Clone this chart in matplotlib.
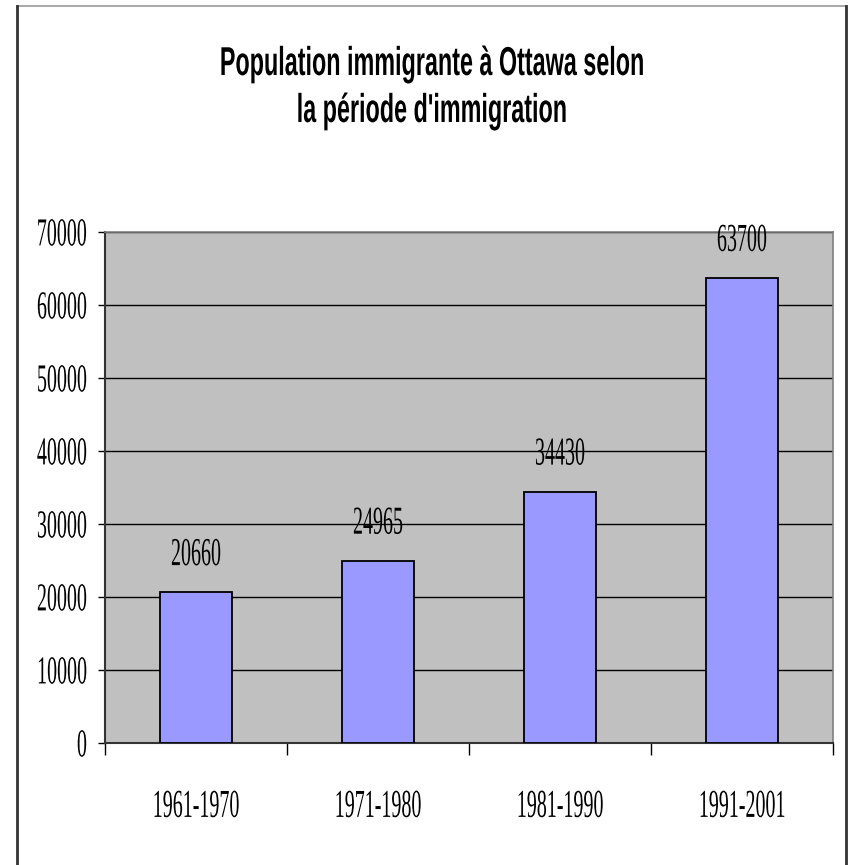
import matplotlib
matplotlib.use("Agg")
import matplotlib.pyplot as plt
import matplotlib.patheffects as pe
from matplotlib.transforms import Affine2D
from matplotlib.lines import Line2D

categories = ["1961-1970", "1971-1980", "1981-1990", "1991-2001"]
values = [20660, 24965, 34430, 63700]
y_ticks = [0, 10000, 20000, 30000, 40000, 50000, 60000, 70000]
title_lines = ["Population immigrante à Ottawa selon", "la période d'immigration"]


class Stretch(pe.AbstractPathEffect):
    """Scale glyph outlines by (kx, ky) around an anchor of the glyph extents."""
    def __init__(self, kx=1.0, ky=1.0, xanchor="center", yanchor="center"):
        super().__init__()
        self.kx, self.ky = kx, ky
        self.xanchor, self.yanchor = xanchor, yanchor

    def draw_path(self, renderer, gc, tpath, affine, rgbFace=None):
        ext = tpath.get_extents()
        cx = {"center": (ext.x0 + ext.x1) / 2, "right": ext.x1, "left": ext.x0}[self.xanchor]
        cy = {"center": (ext.y0 + ext.y1) / 2, "baseline": 0.0}[self.yanchor]
        t = (Affine2D().translate(-cx, -cy).scale(self.kx, self.ky)
             .translate(cx, cy))
        renderer.draw_path(gc, tpath, t + affine, rgbFace)


W, H = 849, 865
fig = plt.figure(figsize=(W / 100, H / 100), dpi=100)
fig.patch.set_facecolor("white")

ax = fig.add_axes([105 / W, 1 - 743 / H, (833 - 105) / W, (743 - 232) / H])
ax.set_facecolor("#C0C0C0")

x = list(range(len(categories)))
ax.bar(x, values, width=0.4, color="#9999FF", edgecolor="black", linewidth=1.3, zorder=3)

ax.set_xlim(-0.5, len(categories) - 0.5)
ax.set_ylim(0, 70000)
ax.set_yticks(y_ticks)
ax.yaxis.grid(True, color="black", linewidth=1.0, zorder=1)
ax.set_axisbelow(True)

serif = "Liberation Serif"
fs = 14.4
ky = 1.98
st_center = [Stretch(1.0, ky, "center", "center")]
st_base = [Stretch(1.0, ky, "center", "baseline")]

ax.set_yticklabels([str(v) for v in y_ticks], fontfamily=serif, fontsize=fs,
                   path_effects=st_center)
ax.tick_params(axis="y", direction="out", length=5, width=1, color="black", pad=8)

ax.set_xticks(x)
ax.set_xticklabels(categories, fontfamily=serif, fontsize=fs, path_effects=st_center)
ax.tick_params(axis="x", which="major", length=0, pad=38.5)
ax.set_xticks([i - 0.5 for i in range(len(categories) + 1)], minor=True)
ax.tick_params(axis="x", which="minor", direction="out", length=8.5, width=1, color="black")

for s in ["top", "right"]:
    ax.spines[s].set_color("#808080")
    ax.spines[s].set_linewidth(1.2)
ax.spines["left"].set_color("#333333")
ax.spines["left"].set_linewidth(1.5)
ax.spines["bottom"].set_color("#333333")
ax.spines["bottom"].set_linewidth(1.5)

for xi, v in zip(x, values):
    ax.annotate(str(v), xy=(xi, v), xytext=(0, 19.5), textcoords="offset points",
                ha="center", va="baseline", fontfamily=serif, fontsize=fs,
                path_effects=st_base, zorder=5, annotation_clip=False)

for line, yb in zip(title_lines, [75, 122]):
    fig.text(431.5 / W, 1 - yb / H, line, ha="center", va="baseline",
             fontfamily="Liberation Sans", fontweight="bold", fontsize=29,
             path_effects=[Stretch(0.58, 1.0, "center", "baseline")])

# outer frame
L, R, T = 17 / W, 846 / W, 1 - 6 / H
fig.add_artist(Line2D([L, R], [T, T], transform=fig.transFigure, color="#999999", lw=1.2))
fig.add_artist(Line2D([L, L], [T, -0.01], transform=fig.transFigure, color="#333333", lw=2))
fig.add_artist(Line2D([R, R], [T, -0.01], transform=fig.transFigure, color="#333333", lw=2))

fig.savefig("out.png", dpi=100)
